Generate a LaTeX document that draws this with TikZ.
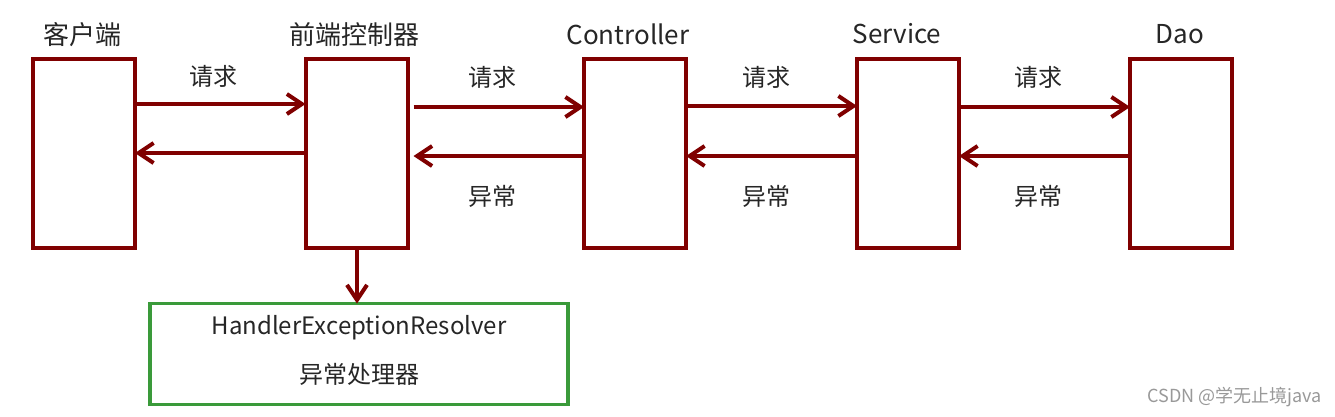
\documentclass[tikz,border=0pt]{standalone}
\usepackage{fontspec}
\setmainfont{Noto Sans CJK SC}
\usetikzlibrary{arrows.meta}
\definecolor{boxred}{HTML}{800000}
\definecolor{boxgreen}{HTML}{3A9A3A}
\definecolor{txt}{HTML}{262626}
\begin{document}
\begin{tikzpicture}[x=1pt,y=-1pt,
  layer/.style={draw=boxred,line width=4pt,minimum width=102pt,minimum height=189pt,inner sep=0pt,outer sep=0pt},
  title/.style={text=txt,font=\fontsize{26}{30}\selectfont,inner sep=0pt},
  lbl/.style={text=txt,font=\fontsize{24}{28}\selectfont,inner sep=0pt},
  flow/.style={draw=boxred,line width=4pt,-{Straight Barb[length=15pt,width=20pt,line width=4pt]}}]
\useasboundingbox (0,0) rectangle (1335,416);
\fill[white] (0,0) rectangle (1335,416);
% boxes
\node[layer] (client) at (84,153.5) {};
\node[layer] (front) at (356.5,153.5) {};
\node[layer] (ctrl) at (635,153.5) {};
\node[layer] (svc) at (908,153.5) {};
\node[layer] (dao) at (1181,153.5) {};
% titles
\node[title] (tclient) at (82,35) {客户端};
\node[title] (tfront) at (354,35) {前端控制器};
\node[title] (tctrl) at (628,34) {Controller};
\node[title] (tsvc) at (897,34) {Service};
\node[title] (tdao) at (1180,34) {Dao};
% request arrows
\draw[flow] (client.east |- 0,104) -- (front.west |- 0,104);
\draw[flow] ([xshift=6pt]front.east |- 0,107) -- (ctrl.west |- 0,107);
\draw[flow] (ctrl.east |- 0,106) -- (svc.west |- 0,106);
\draw[flow] (svc.east |- 0,107) -- (dao.west |- 0,107);
% exception arrows
\draw[flow] (front.west |- 0,153) -- (client.east |- 0,153);
\draw[flow] (ctrl.west |- 0,156) -- ([xshift=6pt]front.east |- 0,156);
\draw[flow] (svc.west |- 0,156) -- (ctrl.east |- 0,156);
\draw[flow] (dao.west |- 0,156) -- (svc.east |- 0,156);
% labels
\node[lbl] (r1) at (213,76) {请求};
\node[lbl] (r2) at (492,77) {请求};
\node[lbl] (r3) at (766,77) {请求};
\node[lbl] (r4) at (1038,77) {请求};
\node[lbl] (e2) at (492,196) {异常};
\node[lbl] (e3) at (766,196) {异常};
\node[lbl] (e4) at (1038,196) {异常};
% resolver
\node[draw=boxgreen,line width=3.5pt,minimum width=418pt,minimum height=101pt,inner sep=0pt,outer sep=0pt] (res) at (359,354) {};
\node[lbl] (res1) at (359,328) {HandlerExceptionResolver};
\node[lbl] (res2) at (359,374) {异常处理器};
\draw[flow] (front.south -| 357,0) -- (res.north -| 357,0);
% watermark
\node[text=black!40,font=\fontsize{18}{21}\selectfont,inner sep=0pt,anchor=east] (wm) at (1322,397) {CSDN @学无止境java};
\end{tikzpicture}
\end{document}
